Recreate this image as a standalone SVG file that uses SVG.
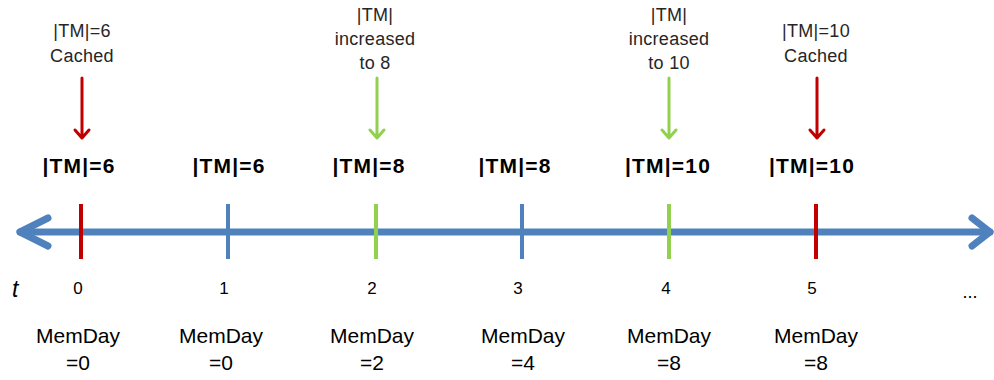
<svg xmlns="http://www.w3.org/2000/svg" width="994" height="380" viewBox="0 0 994 380">
<defs>
<style>
.note{font-family:"Liberation Sans",Arial,sans-serif;font-size:18px;fill:#262626;text-anchor:middle;letter-spacing:0.3px}
.tm{font-family:"Liberation Sans",Arial,sans-serif;font-size:21px;font-weight:bold;fill:#000;text-anchor:middle;letter-spacing:1.2px}
.num{font-family:"Liberation Sans",Arial,sans-serif;font-size:17px;fill:#000;text-anchor:middle}
.md{font-family:"Liberation Sans",Arial,sans-serif;font-size:21px;fill:#000;text-anchor:middle}
.axis{stroke:#4F81BD;stroke-width:7;fill:none;stroke-linecap:round;stroke-linejoin:round}
.tick{stroke-width:4;fill:none}
.red{stroke:#C00000}
.green{stroke:#92D050}
.blue{stroke:#4F81BD}
.arr{stroke-width:3;fill:none;stroke-linecap:round;stroke-linejoin:round}
</style>
</defs>
<g id="axis">
<path class="axis" d="M20 232 H990"/>
<path class="axis" d="M48 218 L20 232 L48 246"/>
<path class="axis" d="M972 218 L990 232 L972 246"/>
</g>
<g id="connectors">
<path class="arr red" d="M82 78 V138 M75 130 L82 138 L89 130"/>
<path class="arr green" d="M377 78 V138 M370 130 L377 138 L384 130"/>
<path class="arr green" d="M669 78 V138 M662 130 L669 138 L676 130"/>
<path class="arr red" d="M817 78 V138 M810 130 L817 138 L824 130"/>
</g>
<g id="t0">
<line class="tick red" x1="81" y1="204" x2="81" y2="259"/>
<text class="note" x="82" y="37">|TM|=6</text>
<text class="note" x="82" y="62">Cached</text>
<text class="tm" x="79" y="173">|TM|=6</text>
<text class="num" x="78" y="294">0</text>
<text class="md" x="78" y="343">MemDay</text>
<text class="md" x="78" y="370">=0</text>
</g>
<g id="t1">
<line class="tick blue" x1="228" y1="204" x2="228" y2="259"/>
<text class="tm" x="229" y="173">|TM|=6</text>
<text class="num" x="224" y="294">1</text>
<text class="md" x="221" y="343">MemDay</text>
<text class="md" x="221" y="370">=0</text>
</g>
<g id="t2">
<line class="tick green" x1="376" y1="204" x2="376" y2="259"/>
<text class="note" x="375" y="21">|TM|</text>
<text class="note" x="375" y="45">increased</text>
<text class="note" x="375" y="69">to 8</text>
<text class="tm" x="369" y="173">|TM|=8</text>
<text class="num" x="372" y="294">2</text>
<text class="md" x="372" y="343">MemDay</text>
<text class="md" x="372" y="370">=2</text>
</g>
<g id="t3">
<line class="tick blue" x1="522" y1="204" x2="522" y2="259"/>
<text class="tm" x="515" y="173">|TM|=8</text>
<text class="num" x="518" y="294">3</text>
<text class="md" x="523" y="343">MemDay</text>
<text class="md" x="523" y="370">=4</text>
</g>
<g id="t4">
<line class="tick green" x1="669" y1="204" x2="669" y2="259"/>
<text class="note" x="669" y="21">|TM|</text>
<text class="note" x="669" y="45">increased</text>
<text class="note" x="669" y="69">to 10</text>
<text class="tm" x="668" y="173">|TM|=10</text>
<text class="num" x="666" y="294">4</text>
<text class="md" x="669" y="343">MemDay</text>
<text class="md" x="669" y="370">=8</text>
</g>
<g id="t5">
<line class="tick red" x1="816" y1="204" x2="816" y2="259"/>
<text class="note" x="816" y="37">|TM|=10</text>
<text class="note" x="816" y="62">Cached</text>
<text class="tm" x="812" y="173">|TM|=10</text>
<text class="num" x="812" y="294">5</text>
<text class="md" x="816" y="343">MemDay</text>
<text class="md" x="816" y="370">=8</text>
</g>
<g id="labels">
<text x="12" y="297" style="font-family:'Liberation Sans',Arial,sans-serif;font-size:23px;font-style:italic;fill:#000">t</text>
<text x="970" y="298" style="font-family:'Liberation Sans',Arial,sans-serif;font-size:18px;fill:#000;text-anchor:middle">...</text>
</g>
</svg>
